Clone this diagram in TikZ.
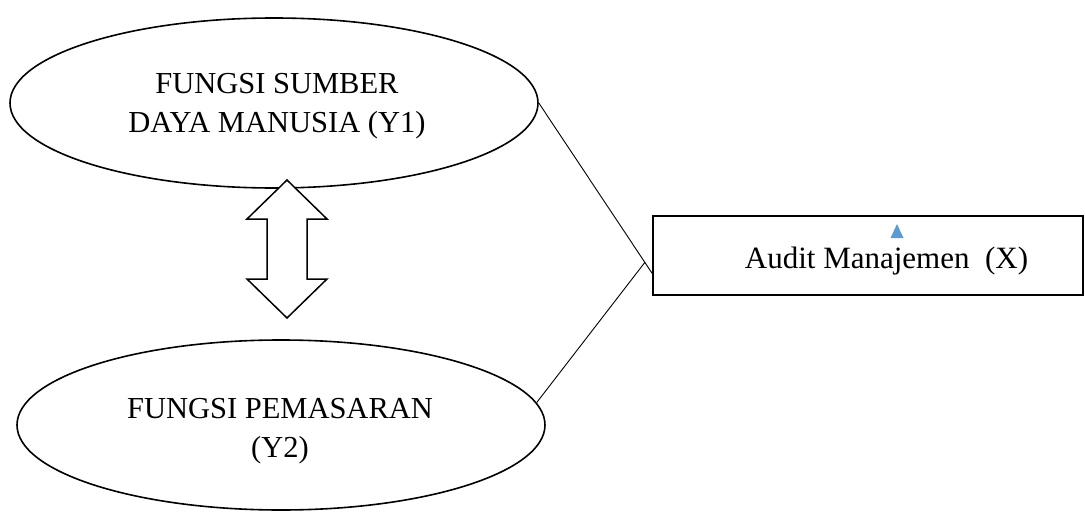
\documentclass[tikz,border=0pt]{standalone}
\usepackage{fontspec}
\setmainfont{Liberation Serif}
\usetikzlibrary{shapes.geometric,calc}
\tikzset{
  oval/.style={ellipse,draw,line width=1.6pt,minimum width=528pt,minimum height=170pt,inner sep=0pt},
  ovaltext/.style={anchor=north,inner sep=0pt,align=center,font=\fontsize{30.5}{39}\selectfont},
  boxnode/.style={rectangle,draw,line width=1.8pt,minimum width=430pt,minimum height=79pt,inner sep=0pt},
  boxtext/.style={anchor=base,font=\fontsize{31}{36}\selectfont,inner sep=0pt},
  link/.style={line width=0.9pt},
  dblarrow/.style={draw,fill=white,line width=1.5pt,line join=miter}
}
\definecolor{tri}{HTML}{5B9BD5}
\begin{document}
\begin{tikzpicture}[x=1pt,y=-1pt]
\useasboundingbox (0,0) rectangle (1085,514);
\node[oval] (Y1) at (274,103) {};
\node[ovaltext] (Y1t) at (277,73.3) {FUNGSI SUMBER\\DAYA MANUSIA (Y1)};
\node[oval] (Y2) at (281,425) {};
\node[ovaltext] (Y2t) at (280,397.7) {FUNGSI PEMASARAN\\(Y2)};
\node[boxnode] (X) at (868,255.5) {};
\node[boxtext] (XT) at (886.5,268.3) {Audit Manajemen~~(X)};
\fill[tri] (890.5,238) -- (903.5,238) -- (897,224) -- cycle;
\draw[dblarrow] (287,180) -- (327,219) -- (307,219) -- (307,279) -- (327,279) -- (287,318) -- (247,279) -- (267,279) -- (267,219) -- (247,219) -- cycle;
\coordinate (xin) at ($(X.south west)!0.28!(X.north west)$);
\coordinate (j) at ($(Y1.east)!0.936!(xin)$);
\draw[link] (Y1.east) -- (xin);
\draw[link] (j) -- (Y2.5);
\end{tikzpicture}
\end{document}
